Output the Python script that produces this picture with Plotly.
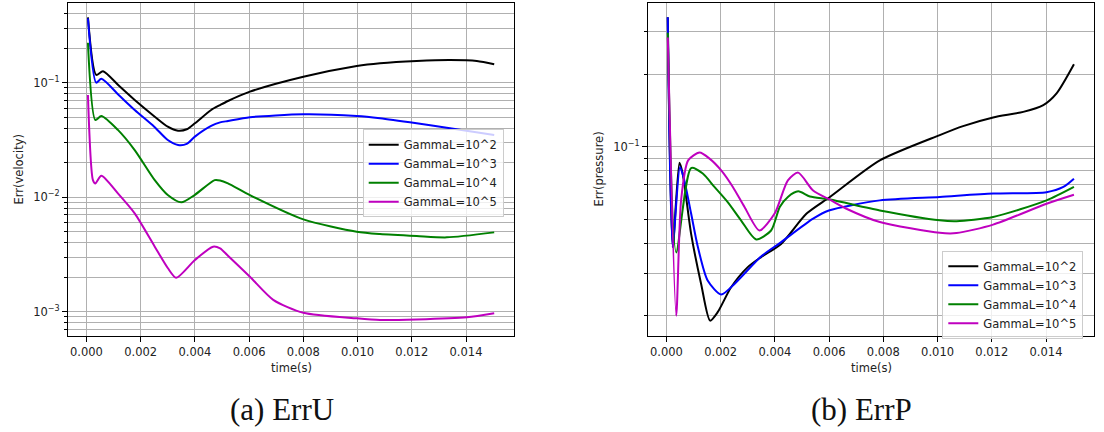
import plotly.graph_objects as go

# ---------------- data ----------------
series_names = ["GammaL=10^2", "GammaL=10^3", "GammaL=10^4", "GammaL=10^5"]
series_colors = ["#000000", "#0000ff", "#008000", "#bf00bf"]

x_tick_vals = [0.0, 0.002, 0.004, 0.006, 0.008, 0.010, 0.012, 0.014]
x_tick_text = ["0.000", "0.002", "0.004", "0.006", "0.008", "0.010", "0.012", "0.014"]

# (a) ErrU -- velocity error
u_t_2 = [0.000055, 0.00036, 0.00061, 0.0012, 0.00178, 0.00252, 0.0030, 0.00338, 0.0037, 0.0040,
         0.0046, 0.00493, 0.00522, 0.00603, 0.0080, 0.00997, 0.01083, 0.01218, 0.01341, 0.0144, 0.01504]
u_v_2 = [0.372, 0.117, 0.126, 0.094, 0.0706, 0.0505, 0.0413, 0.0381, 0.0392, 0.0442,
         0.0578, 0.0638, 0.0692, 0.0835, 0.1128, 0.140, 0.148, 0.155, 0.158, 0.155, 0.145]

u_t_3 = [0.000055, 0.00036, 0.00055, 0.0012, 0.00178, 0.0025, 0.0030, 0.00338, 0.0037, 0.0040,
         0.0046, 0.00493, 0.00522, 0.00603, 0.008, 0.00997, 0.01083, 0.01218, 0.01341, 0.01504]
u_v_3 = [0.365, 0.100, 0.108, 0.0777, 0.0578, 0.0413, 0.0316, 0.0286, 0.0292, 0.0338,
         0.0419, 0.0450, 0.0463, 0.0499, 0.0530, 0.0512, 0.0489, 0.0442, 0.0400, 0.0349]

u_t_4 = [0.000055, 0.00033, 0.00055, 0.00116, 0.00178, 0.00252, 0.0030, 0.0035, 0.0040, 0.00473,
         0.00493, 0.00522, 0.00603, 0.008, 0.00997, 0.01083, 0.01218, 0.01329, 0.01504]
u_v_4 = [0.223, 0.0472, 0.0512, 0.0387, 0.0258, 0.0141, 0.01045, 0.00902, 0.0105, 0.0141,
         0.0140, 0.0132, 0.01044, 0.00641, 0.0050, 0.00477, 0.00458, 0.00446, 0.00493]

u_t_5 = [0.000055, 0.00024, 0.00033, 0.00055, 0.00116, 0.00178, 0.00252, 0.0030, 0.00331, 0.0040,
         0.00467, 0.00493, 0.00522, 0.00603, 0.00689, 0.008, 0.00997, 0.01083, 0.01218, 0.01403, 0.01504]
u_v_5 = [0.0781, 0.0141, 0.0132, 0.0154, 0.0108, 0.00722, 0.0037, 0.00241, 0.00198, 0.00283,
         0.0037, 0.00358, 0.00308, 0.00202, 0.00127, 0.00098, 0.000875, 0.000846, 0.000855, 0.000893, 0.000968]

# (b) ErrP -- pressure error
p_t_2 = [0.00005, 0.00023, 0.00048, 0.0006, 0.00091, 0.00128, 0.00161, 0.00189, 0.00238, 0.003,
         0.00349, 0.00423, 0.00517, 0.00603, 0.00787, 0.01008, 0.01094, 0.01205, 0.01316, 0.0139,
         0.01439, 0.01503]
p_v_2 = [0.344, 0.0385, 0.0861, 0.0776, 0.0437, 0.0271, 0.0191, 0.0207, 0.0262, 0.0318,
         0.0350, 0.0397, 0.0530, 0.0621, 0.0880, 0.112, 0.122, 0.1325, 0.1397, 0.149,
         0.1667, 0.220]

p_t_3 = [0.000048, 0.00023, 0.0005, 0.00066, 0.00091, 0.00116, 0.00152, 0.00202, 0.00251, 0.00349,
         0.00418, 0.00541, 0.00599, 0.00787, 0.01008, 0.01205, 0.01402, 0.01464, 0.01503]
p_v_3 = [0.344, 0.0385, 0.0826, 0.0727, 0.0530, 0.0385, 0.0280, 0.0245, 0.0271, 0.0352,
         0.0400, 0.0505, 0.0546, 0.0601, 0.0621, 0.0641, 0.0650, 0.0683, 0.0739]

p_t_4 = [0.00005, 0.00036, 0.00091, 0.00134, 0.00177, 0.00226, 0.00275, 0.00331, 0.00386, 0.00418,
         0.00448, 0.00486, 0.00529, 0.00603, 0.00787, 0.01008, 0.0107, 0.01205, 0.01402, 0.01503]
p_v_4 = [0.297, 0.0366, 0.0818, 0.0776, 0.0683, 0.0591, 0.0497, 0.0414, 0.0451, 0.0564,
         0.0621, 0.0655, 0.0624, 0.0606, 0.0546, 0.0497, 0.0493, 0.0513, 0.0601, 0.0683]

p_t_5 = [0.00005, 0.00036, 0.00054, 0.0008, 0.00122, 0.00159, 0.00202, 0.00245, 0.00288, 0.00343,
         0.00399, 0.00448, 0.00486, 0.00541, 0.00603, 0.00664, 0.00787, 0.01008, 0.0107, 0.01205,
         0.01402, 0.01503]
p_v_5 = [0.284, 0.020, 0.0601, 0.088, 0.0948, 0.0895, 0.080, 0.0683, 0.0564, 0.0451,
         0.0530, 0.0727, 0.0783, 0.0660, 0.0605, 0.0555, 0.0489, 0.0441, 0.0440, 0.0477,
         0.0582, 0.0634]

u_yticks = [0.001, 0.01, 0.1]
u_yticktext = ["10<sup>\u22123</sup>", "10<sup>\u22122</sup>", "10<sup>\u22121</sup>"]
u_yminor = [m * 10.0 ** e for e in (-4, -3, -2, -1) for m in range(2, 10)]
p_yticks = [0.1]
p_yticktext = ["10<sup>\u22121</sup>"]
p_yminor = [m * 10.0 ** e for e in (-2, -1) for m in range(2, 10)]

# ---------------- figure ----------------
W, H = 1104, 432
FONT = "DejaVu Sans"
FS = 11.5
GRID = "#b0b0b0"

fig = go.Figure()

u_sets = [(u_t_2, u_v_2), (u_t_3, u_v_3), (u_t_4, u_v_4), (u_t_5, u_v_5)]
p_sets = [(p_t_2, p_v_2), (p_t_3, p_v_3), (p_t_4, p_v_4), (p_t_5, p_v_5)]

for (t, v), name, col in zip(u_sets, series_names, series_colors):
    fig.add_trace(go.Scatter(x=t, y=v, mode="lines", name=name, legend="legend",
                             line=dict(color=col, width=2, shape="spline", smoothing=0.7),
                             xaxis="x", yaxis="y"))
for (t, v), name, col in zip(p_sets, series_names, series_colors):
    fig.add_trace(go.Scatter(x=t, y=v, mode="lines", name=name, legend="legend2",
                             line=dict(color=col, width=2, shape="spline", smoothing=0.7),
                             xaxis="x2", yaxis="y2"))

def xaxis_style(domain, anchor):
    return dict(domain=domain, anchor=anchor, range=[-0.00068, 0.01577],
                tickmode="array", tickvals=x_tick_vals, ticktext=x_tick_text,
                showline=True, linecolor="black", linewidth=1, mirror=True,
                ticks="outside", ticklen=5, tickcolor="black",
                showgrid=True, gridcolor=GRID, gridwidth=1, zeroline=False,
                tickfont=dict(family=FONT, size=FS, color="#222222"))

def yaxis_style(domain, anchor, rng, tv, tt, minor_vals):
    return dict(domain=domain, anchor=anchor, type="log", range=rng,
                tickmode="array", tickvals=tv, ticktext=tt,
                showline=True, linecolor="black", linewidth=1, mirror=True,
                ticks="outside", ticklen=5, tickcolor="black",
                showgrid=True, gridcolor=GRID, gridwidth=1, zeroline=False,
                minor=dict(tickmode="array", tickvals=minor_vals, ticks="outside",
                           ticklen=3, tickcolor="black", showgrid=True,
                           gridcolor=GRID, gridwidth=1),
                tickfont=dict(family=FONT, size=FS, color="#222222"))

ydom = [1 - 336 / H, 1 - 3 / H]
legend_common = dict(xanchor="left", yanchor="top", bgcolor="rgba(255,255,255,0.8)",
                     bordercolor="#cccccc", borderwidth=1, itemwidth=30,
                     font=dict(family=FONT, size=FS, color="#222222"))

fig.update_layout(
    width=W, height=H, margin=dict(l=0, r=0, t=0, b=0),
    paper_bgcolor="white", plot_bgcolor="white",
    xaxis=xaxis_style([68 / W, 514 / W], "y"),
    yaxis=yaxis_style(ydom, "x", [-3.212, -0.304], u_yticks, u_yticktext, u_yminor),
    xaxis2=xaxis_style([648 / W, 1094 / W], "y2"),
    yaxis2=yaxis_style(ydom, "x2", [-1.7826, -0.404], p_yticks, p_yticktext, p_yminor),
    legend=dict(x=362.7 / W, y=1 - 129.3 / H, **legend_common),
    legend2=dict(x=942.3 / W, y=1 - 250.7 / H, **legend_common),
)

ann_font = dict(family=FONT, size=FS, color="#222222")
cap_font = dict(family="Liberation Serif", size=31, color="#111111")
annotations = [
    dict(text="Err(velocity)", x=18 / W, y=1 - 169.5 / H, textangle=-90, font=ann_font),
    dict(text="Err(pressure)", x=598 / W, y=1 - 169.5 / H, textangle=-90, font=ann_font),
    dict(text="time(s)", x=291 / W, y=1 - 367.7 / H, font=ann_font),
    dict(text="time(s)", x=871 / W, y=1 - 367.7 / H, font=ann_font),
    dict(text="(a) ErrU", x=282 / W, y=1 - 409 / H, font=cap_font),
    dict(text="(b) ErrP", x=861 / W, y=1 - 409 / H, font=cap_font),
]
for a in annotations:
    a.update(xref="paper", yref="paper", xanchor="center", yanchor="middle", showarrow=False)
fig.update_layout(annotations=annotations)

fig.write_html("out.html", config={"displayModeBar": False},
               post_script="document.body.style.margin='0px';document.body.style.padding='0px';")
